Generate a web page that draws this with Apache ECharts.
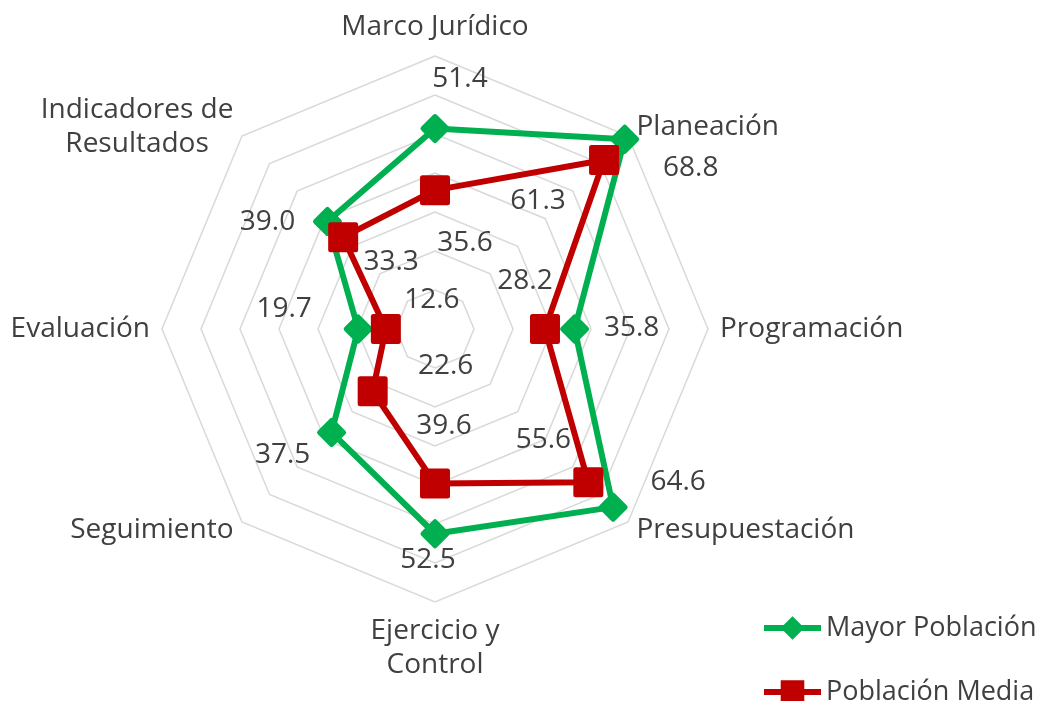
<!DOCTYPE html>
<html>
<head>
<meta charset="utf-8">
<script src="https://cdn.jsdelivr.net/npm/echarts@6/dist/echarts.min.js"></script>
<style>
    html, body { margin: 0; background: #fff; }
    #chart { width: 1044px; height: 701px; }
</style>
</head>
<body>
<div id="chart"></div>
<script>
// categorías en el orden del original (horario desde arriba)
const categories = ['Marco Jurídico', 'Planeación', 'Programación', 'Presupuestación',
    'Ejercicio y\nControl', 'Seguimiento', 'Evaluación', 'Indicadores de\nResultados'];
const mayorPoblacion = [51.4, 68.8, 35.8, 64.6, 52.5, 37.5, 19.7, 39.0];
const poblacionMedia = [35.6, 61.3, 28.2, 55.6, 39.6, 22.6, 12.6, 33.3];
const seriesNames = ['Mayor Población', 'Población Media'];
const axisMax = 70;
const splitCount = 7;

// desplazamiento de cada etiqueta respecto a su marcador (px), mismo orden
const greenLabelOffset = [[25, -50], [66, 29], [57, -1], [65, -25], [-7, 26], [-49, 23], [-74, -20], [-60, 1]];
const redLabelOffset = [[30, 53], [-66, 41], [-20, -48], [-45, -42], [9, -57], [73, -25], [46, -29], [48, 25]];

const GREEN = '#00b050';
const RED = '#c00000';
const TEXT = '#404040';
const FONT = 'Open Sans';
const FONT_SIZE = 28;

// echarts reparte los indicadores en sentido antihorario
const ccw = arr => [arr[0]].concat(arr.slice(1).reverse());

const chart = echarts.init(document.getElementById('chart'));

const series = [
    {
        type: 'radar',
        z: 2,
        symbol: 'diamond',
        symbolSize: 24,
        lineStyle: { width: 6, color: GREEN },
        itemStyle: { color: GREEN, borderColor: GREEN, borderWidth: 5, borderJoin: 'round' },
        data: [{ name: seriesNames[0], value: ccw(mayorPoblacion) }]
    },
    {
        type: 'radar',
        z: 3,
        symbol: 'rect',
        symbolSize: 25,
        lineStyle: { width: 6, color: RED },
        itemStyle: { color: RED, borderColor: RED, borderWidth: 5, borderJoin: 'round' },
        data: [{ name: seriesNames[1], value: ccw(poblacionMedia) }]
    }
];

// una serie invisible por punto, solo para colocar cada etiqueta de valor
function addLabels(values, offsets, tag) {
    ccw(offsets).forEach((off, k) => {
        series.push({
            type: 'radar',
            z: 5,
            silent: true,
            symbol: 'circle',
            symbolSize: 1,
            lineStyle: { width: 0, opacity: 0 },
            itemStyle: { color: 'rgba(0,0,0,0)' },
            label: {
                show: true,
                position: 'inside',
                offset: off,
                color: TEXT,
                fontSize: FONT_SIZE,
                fontFamily: FONT,
                formatter: p => p.dimensionIndex === k ? Number(p.value).toFixed(1) : ''
            },
            data: [{ name: tag + k, value: ccw(values) }]
        });
    });
}
addLabels(mayorPoblacion, greenLabelOffset, 'g');
addLabels(poblacionMedia, redLabelOffset, 'r');

// una leyenda por serie para que no se parta en columnas
const legendIcons = [
    'path://M0,9 L20,9 L29,0 L38,9 L58,9 L58,15 L38,15 L29,24 L20,15 L0,15 Z',
    'path://M0,9 L17,9 L17,0 L41,0 L41,9 L58,9 L58,15 L41,15 L41,24 L17,24 L17,15 L0,15 Z'
];
const legendTops = [609, 673];
const legends = seriesNames.map((name, i) => ({
    left: 759,
    top: legendTops[i],
    itemWidth: 57,
    itemHeight: 24,
    itemGap: 4,
    selectedMode: false,
    itemStyle: { borderWidth: 0 },
    textStyle: { color: TEXT, fontSize: 27, fontFamily: FONT, lineHeight: 28 },
    data: [{ name: name, icon: legendIcons[i] }]
}));

const option = {
    animation: false,
    backgroundColor: '#fff',
    legend: legends,
    radar: {
        center: [435, 329],
        radius: 273,
        startAngle: 90,
        splitNumber: splitCount,
        shape: 'polygon',
        axisNameGap: 12,
        indicator: ccw(categories).map(name => ({ name: name, min: 0, max: axisMax })),
        axisName: {
            color: TEXT,
            fontSize: FONT_SIZE,
            fontFamily: FONT,
            formatter: name => name.split('\n').map(s => '{c|' + s + '}').join('\n'),
            rich: {
                c: { align: 'center', color: TEXT, fontSize: FONT_SIZE, fontFamily: FONT, lineHeight: 34 }
            }
        },
        axisLine: { show: false },
        axisTick: { show: false },
        axisLabel: { show: false },
        splitArea: { show: false },
        splitLine: { lineStyle: { color: '#d9d9d9', width: 1.5 } }
    },
    series: series
};

chart.setOption(option);
window.addEventListener('resize', () => chart.resize());
</script>
</body>
</html>
